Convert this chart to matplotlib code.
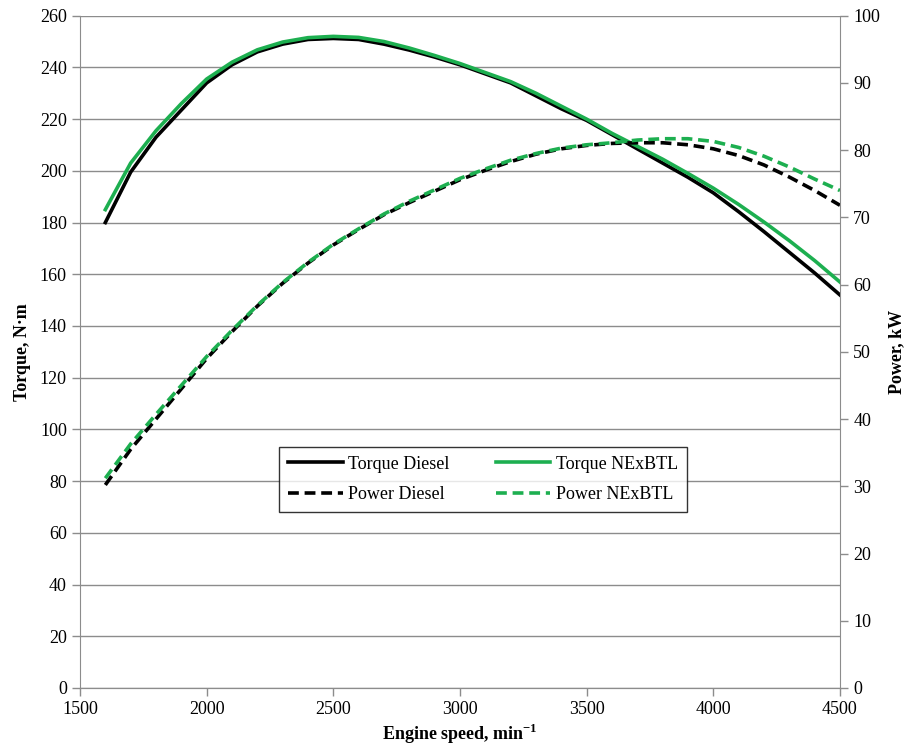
import numpy as np
import matplotlib
matplotlib.use("Agg")
from matplotlib import pyplot as plt

plt.rcParams['font.family'] = ['Liberation Serif', 'DejaVu Serif']
plt.rcParams['mathtext.fontset'] = 'custom'
plt.rcParams['mathtext.rm'] = 'Liberation Serif'
plt.rcParams['mathtext.bf'] = 'Liberation Serif:bold'

# engine speed, min^-1
speed = [1600, 1700, 1800, 1900, 2000, 2100, 2200, 2300, 2400, 2500,
         2600, 2700, 2800, 2900, 3000, 3100, 3200, 3300, 3400, 3500,
         3600, 3700, 3800, 3900, 4000, 4100, 4200, 4300, 4400, 4500]

# torque, N*m
torque_diesel = [180, 199.5, 213, 223.5, 234, 241, 246, 249, 250.8, 251.2,
                 250.8, 249, 246.7, 244, 241, 237.5, 234, 229, 224, 219.5,
                 214, 208.5, 203, 197.5, 191.5, 184.2, 176.5, 168.5, 160.5, 152]
torque_nexbtl = [185, 203, 215.5, 226, 235.5, 242, 246.8, 249.8, 251.5, 252,
                 251.6, 250, 247.5, 244.6, 241.5, 238, 234.5, 230, 225, 220,
                 214.5, 209.5, 204.5, 199, 193.3, 187, 180.2, 173, 165.3, 157]

# power, kW
power_diesel = [30.2, 35.5, 40, 44.5, 49, 53, 56.8, 60.2, 63.2, 65.9,
                68.2, 70.4, 72.2, 73.9, 75.6, 77, 78.3, 79.4, 80.2, 80.7,
                81, 81.1, 81.1, 80.8, 80.2, 79.2, 77.8, 76, 74, 71.8]
power_nexbtl = [31.2, 36.3, 40.7, 45, 49.3, 53.2, 56.9, 60.3, 63.3, 66,
                68.3, 70.5, 72.4, 74.1, 75.8, 77.2, 78.5, 79.5, 80.3, 80.8,
                81.1, 81.5, 81.7, 81.7, 81.3, 80.4, 79.1, 77.5, 75.7, 74]

green = '#1DAF50'
grey = '#8c8c8c'

fig = plt.figure(figsize=(9.06, 7.47), dpi=100)
ax = fig.add_axes([0.0883, 0.079, 0.8388, 0.900])
ax2 = ax.twinx()

l1, = ax.plot(speed, torque_diesel, color='black', lw=2.6, label='Torque Diesel')
l2, = ax.plot(speed, torque_nexbtl, color=green, lw=2.6, label='Torque NExBTL')
l3, = ax2.plot(speed, power_diesel, color='black', lw=2.6, ls=(0, (3, 1.6)), label='Power Diesel')
l4, = ax2.plot(speed, power_nexbtl, color=green, lw=2.6, ls=(0, (3, 1.6)), label='Power NExBTL')

ax.set_xlim(1500, 4500)
ax.set_ylim(0, 260)
ax2.set_ylim(0, 100)
ax.set_xticks(np.arange(1500, 4501, 500))
ax.set_yticks(np.arange(0, 261, 20))
ax2.set_yticks(np.arange(0, 101, 10))

ax.grid(axis='y', color=grey, lw=1)
ax.set_axisbelow(True)
for a in (ax, ax2):
    for s in a.spines.values():
        s.set_color(grey)
    a.spines['top'].set_visible(False)
    a.tick_params(colors=grey, labelcolor='black', labelsize=13, length=6, width=1)
ax.spines['right'].set_visible(False)
ax2.spines['left'].set_visible(False)

ax.set_xlabel('Engine speed, min$^{\\mathbf{-1}}$', fontsize=13, fontweight='bold', labelpad=3)
ax.set_ylabel('Torque, N·m', fontsize=13, fontweight='bold', labelpad=6)
ax2.set_ylabel('Power, kW', fontsize=13, fontweight='bold', labelpad=6)

leg = ax.legend(handles=[l1, l3, l2, l4], ncol=2, loc='center',
                bbox_to_anchor=(0.5305, 0.31), fontsize=13, frameon=True,
                fancybox=False, edgecolor='black', handlelength=3.0,
                columnspacing=2.6, handletextpad=0.3, labelspacing=0.75,
                borderpad=0.5)
leg.get_frame().set_linewidth(1)

fig.savefig('out.png', dpi=100)
